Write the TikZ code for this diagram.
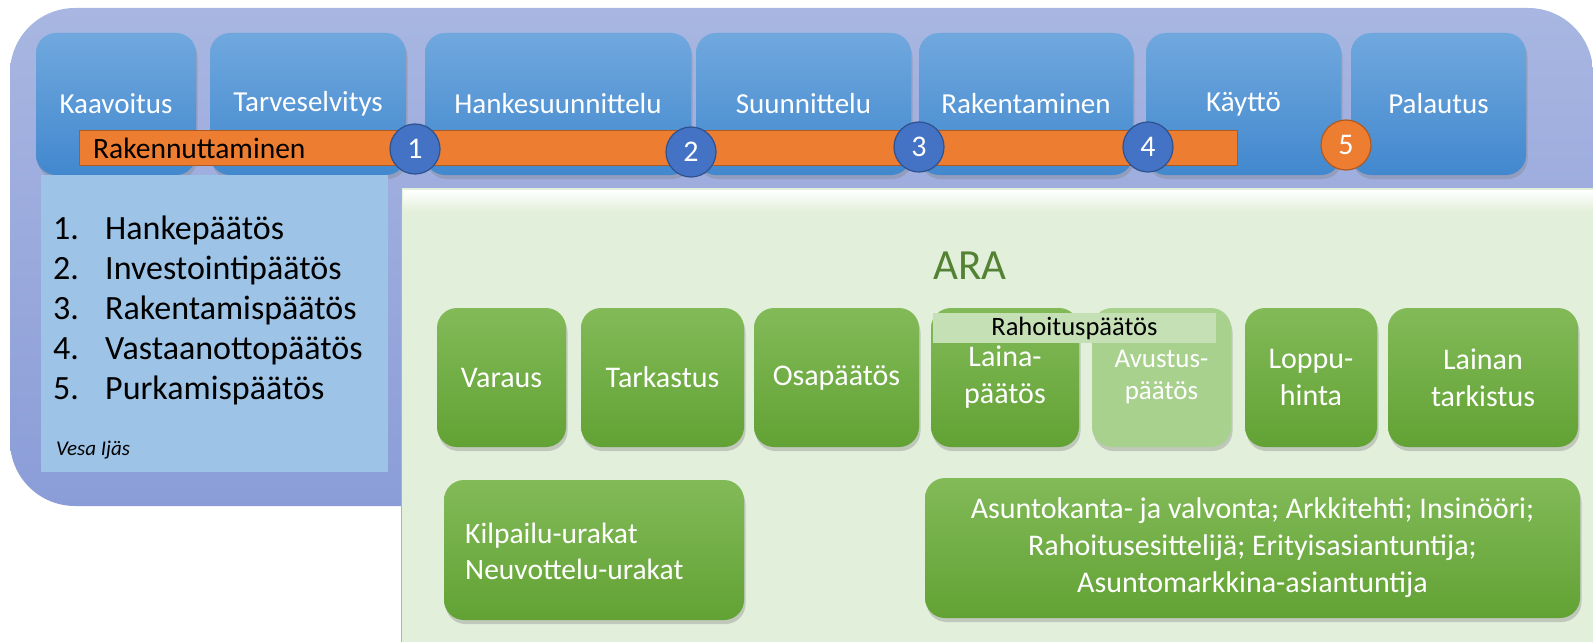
\documentclass[tikz,border=0pt]{standalone}
\usepackage{fontspec}
\setmainfont{Carlito}
\usetikzlibrary{shadows}

\definecolor{outertop}{RGB}{168,182,225}
\definecolor{outerbot}{RGB}{139,157,216}
\definecolor{phasetop}{RGB}{112,168,222}
\definecolor{phasebot}{RGB}{66,136,206}
\definecolor{listblue}{RGB}{157,195,230}
\definecolor{barorange}{RGB}{237,125,49}
\definecolor{barline}{RGB}{174,90,33}
\definecolor{ballblue}{RGB}{68,114,196}
\definecolor{ballline}{RGB}{47,82,143}
\definecolor{arapanel}{RGB}{226,239,218}
\definecolor{aragreen}{RGB}{84,130,53}
\definecolor{boxtop}{RGB}{130,186,88}
\definecolor{boxbot}{RGB}{98,162,52}
\definecolor{boxlight}{RGB}{169,209,142}
\definecolor{rahoitus}{RGB}{197,224,180}

\begin{document}
\begin{tikzpicture}[x=1pt, y=-1pt,
    every node/.style={inner sep=0pt},
    boxshadow/.style={drop shadow={shadow xshift=1.5pt, shadow yshift=-4pt, opacity=0.35}},
    phase/.style={boxshadow, rounded corners=20pt, top color=phasetop, bottom color=phasebot,
      minimum height=142pt, text=white, font=\fontsize{29}{35}\selectfont},
    ball/.style={circle, draw=ballline, line width=1.2pt, fill=ballblue, minimum size=50pt,
      text=white, font=\fontsize{30}{34}\selectfont},
    arabox/.style={boxshadow, rounded corners=20pt, top color=boxtop, bottom color=boxbot,
      minimum height=139pt, text=white, align=center, font=\fontsize{30}{37}\selectfont},
    listtxt/.style={anchor=base west, font=\fontsize{34}{40}\selectfont}]
    \useasboundingbox (0,0) rectangle (1593,642);

    % outer blue frame
    \shade[top color=outertop, bottom color=outerbot, rounded corners=65pt]
      (10,8) rectangle (1593,506);

    % phases along the top
    \foreach \n/\c/\w/\t in {kaav/116/160/Kaavoitus, tarv/308/196/Tarveselvitys,
        hank/558/266/Hankesuunnittelu, suun/803.5/215/Suunnittelu,
        rake/1026/214/Rakentaminen, kayt/1243.5/195/Käyttö, pala/1438.5/175/Palautus}{
      \node[phase, minimum width=\w] (\n) at (\c,104) {\t};
    }

    % orange bar, with its label
    \node[draw=barline, line width=1pt, fill=barorange, minimum width=1158pt,
      minimum height=35pt] (bar) at (658,147.5) {};
    \node[anchor=west, font=\fontsize{29.5}{32}\selectfont] (barT) at (93,148) {Rakennuttaminen};

    % decision points
    \foreach \i/\x/\y in {1/415/149, 2/691/152, 3/919/147, 4/1148/147}{
      \node[ball] (c\i) at (\x,\y) {\i};
    }
    \node[ball, fill=barorange, draw=barline] (c5) at (1346,145) {5};

    % list of decisions
    \fill[listblue] (41,175) rectangle (388,472);
    \foreach \i/\t in {1/Hankepäätös, 2/Investointipäätös, 3/Rakentamispäätös,
        4/Vastaanottopäätös, 5/Purkamispäätös}{
      \node[listtxt] (num\i) at (53,199+40*\i) {\i.};
      \node[listtxt] (dec\i) at (105,199+40*\i) {\t};
    }
    \node[anchor=base west, font=\fontsize{21}{25}\selectfont\itshape] (author) at (56,455) {Vesa Ijäs};

    % ARA panel
    \fill[arapanel] (401,188) rectangle (1593,642);
    \shade[top color=white, bottom color=arapanel] (403,190) rectangle (1593,212);
    \draw[gray!60, line width=1pt] (401,188) -- (401,642);
    \node[text=aragreen, font=\fontsize{43}{50}\selectfont] (ara) at (970,266) {ARA};

    \foreach \n/\c/\w/\t in {vara/501.5/129/Varaus, tark/662.5/163/Tarkastus,
        osap/836.5/165/Osapäätös, lain/1005/148/{Laina-\\päätös},
        lopp/1311/132/{Loppu-\\hinta}, ltar/1483/190/{Lainan\\tarkistus}}{
      \node[arabox, minimum width=\w] (\n) at (\c,377.5) {\t};
    }
    \node[arabox, minimum width=139pt, top color=boxlight, bottom color=boxlight,
      font=\fontsize{27}{32}\selectfont] (avus) at (1161.5,377.5) {Avustus-\\päätös};
    \node[fill=rahoitus, minimum width=283pt, minimum height=30pt,
      font=\fontsize{26.5}{28}\selectfont] (raho) at (1074.5,328) {Rahoituspäätös};

    \node[arabox, minimum width=300pt, minimum height=140pt] (kilp) at (594,550) {};
    \node[anchor=west, align=left, text=white, font=\fontsize{29.5}{36}\selectfont]
      (kilpT) at (465,551) {Kilpailu-urakat\\Neuvottelu-urakat};
    \node[arabox, minimum width=655pt, minimum height=140pt,
      font=\fontsize{30}{37}\selectfont] (asun) at (1252.5,548)
      {Asuntokanta- ja valvonta; Arkkitehti; Insinööri;\\
       Rahoitusesittelijä; Erityisasiantuntija;\\Asuntomarkkina-asiantuntija};
\end{tikzpicture}
\end{document}
